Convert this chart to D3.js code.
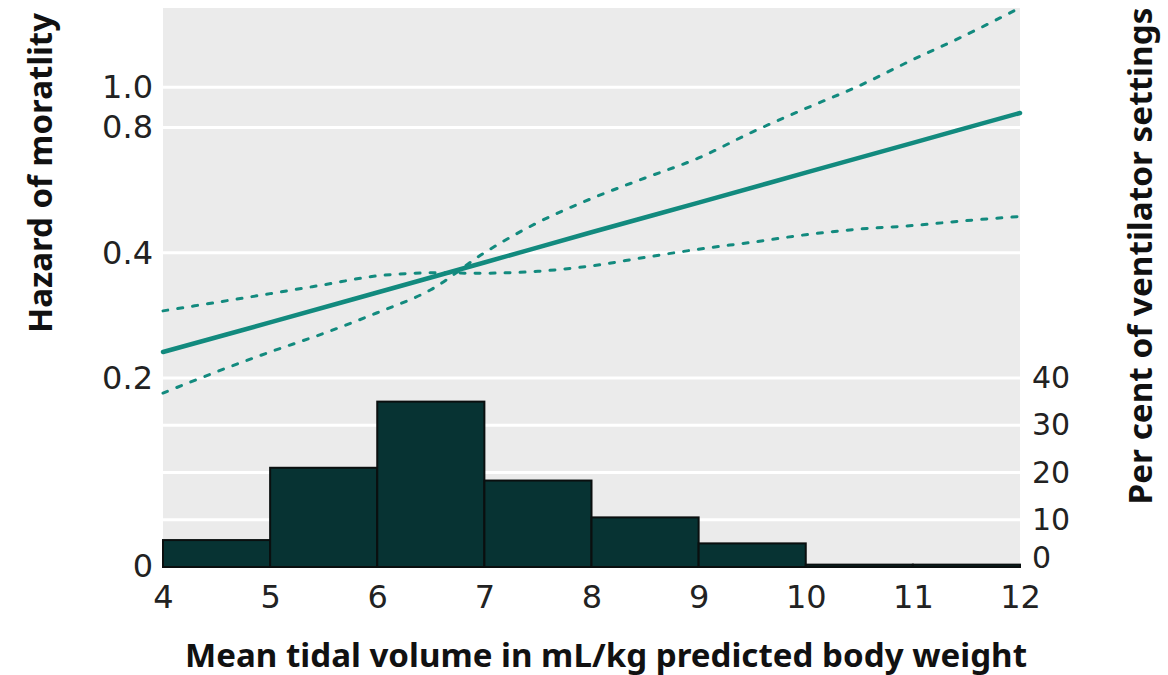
<!DOCTYPE html>
<html>
<head>
<meta charset="utf-8">
<script src="https://cdn.jsdelivr.net/npm/d3@7"></script>
<style>
  body { margin: 0; background: #fff; }
  text { font-family: "DejaVu Sans", sans-serif; fill: #222; }
  .title { font-family: "Noto Sans", sans-serif; font-weight: bold; fill: #111; }
</style>
</head>
<body>
<svg id="chart" width="1168" height="675"></svg>
<script>
// tidal volume (mL/kg PBW) where the hazard curve was read
const tidalVolume = [4, 5, 6, 7, 8, 9, 10, 11, 12];
const hazard = [0.231, 0.272, 0.321, 0.379, 0.448, 0.528, 0.623, 0.735, 0.867];

// confidence band, read every half unit
const ciVolume = [4, 4.5, 5, 5.5, 6, 6.5, 7, 7.5, 8, 8.5, 9, 9.5, 10, 10.5, 11, 11.5, 12];
const ciFlat = [0.290, 0.304, 0.319, 0.335, 0.352, 0.358, 0.357, 0.361, 0.372, 0.390, 0.408, 0.424, 0.442, 0.456, 0.465, 0.478, 0.489];
const ciSteep = [0.184, 0.207, 0.231, 0.256, 0.287, 0.326, 0.400, 0.473, 0.540, 0.605, 0.676, 0.780, 0.889, 1.008, 1.165, 1.337, 1.552];

// histogram of ventilator settings
const binStart = [4, 5, 6, 7, 8, 9, 10, 11];
const binPercent = [5.7, 21, 35, 18.3, 10.5, 5, 0.5, 0.5];

const xTicks = [4, 5, 6, 7, 8, 9, 10, 11, 12];
const hazardTicks = [0.2, 0.4, 0.8, 1.0];
const percentTicks = [0, 10, 20, 30, 40];

const svg = d3.select("#chart");
const margin = { top: 8, right: 148, bottom: 108, left: 163 };
const width = 1168, height = 675;
const plotL = margin.left, plotR = width - margin.right;
const plotT = margin.top, plotB = height - margin.bottom;

const x = d3.scaleLinear().domain([4, 12]).range([plotL, plotR]);
const yHaz = d3.scaleLog().domain([0.2, 1.55]).range([378, plotT]);
const yPct = d3.scaleLinear().domain([0, 40]).range([plotB, 378]);

svg.append("rect")
  .attr("x", plotL).attr("y", plotT)
  .attr("width", plotR - plotL).attr("height", plotB - plotT)
  .attr("fill", "#ebebeb");

// white grid lines
const grid = svg.append("g").attr("stroke", "#fff").attr("stroke-width", 3);
grid.selectAll(".gh")
  .data(hazardTicks)
  .join("line")
  .attr("x1", plotL).attr("x2", plotR)
  .attr("y1", d => yHaz(d)).attr("y2", d => yHaz(d));
grid.selectAll(".gp")
  .data(percentTicks.filter(d => d > 0 && d < 40))
  .join("line")
  .attr("x1", plotL).attr("x2", plotR)
  .attr("y1", d => yPct(d)).attr("y2", d => yPct(d));

// bars
svg.append("g")
  .selectAll("rect")
  .data(binStart.map((s, i) => ({ s, p: binPercent[i] })))
  .join("rect")
  .attr("x", d => x(d.s))
  .attr("width", d => x(d.s + 1) - x(d.s))
  .attr("y", d => yPct(d.p))
  .attr("height", d => yPct(0) - yPct(d.p))
  .attr("fill", "#073333")
  .attr("stroke", "#0a0f0f")
  .attr("stroke-width", 2);

const teal = "#128a7e";
const line = d3.line().curve(d3.curveCatmullRom.alpha(0.5));

svg.append("path")
  .attr("d", line(ciVolume.map((v, i) => [x(v), yHaz(ciFlat[i])])))
  .attr("fill", "none").attr("stroke", teal)
  .attr("stroke-width", 3).attr("stroke-dasharray", "5,10").attr("stroke-linecap", "round");
svg.append("path")
  .attr("d", line(ciVolume.map((v, i) => [x(v), yHaz(ciSteep[i])])))
  .attr("fill", "none").attr("stroke", teal)
  .attr("stroke-width", 3).attr("stroke-dasharray", "5,10").attr("stroke-linecap", "round");
svg.append("path")
  .attr("d", line(tidalVolume.map((v, i) => [x(v), yHaz(hazard[i])])))
  .attr("fill", "none").attr("stroke", teal)
  .attr("stroke-width", 4.5).attr("stroke-linecap", "round");

// axes, no lines, text only
const xAxis = svg.append("g")
  .attr("transform", `translate(0,${plotB})`)
  .call(d3.axisBottom(x).tickValues(xTicks).tickFormat(d3.format("d")).tickSize(0).tickPadding(18));
xAxis.select(".domain").remove();
xAxis.selectAll("text").attr("font-size", 32).attr("font-family", null).attr("fill", null);

const yLeft = svg.append("g")
  .attr("transform", `translate(${plotL - 10},0)`)
  .call(d3.axisLeft(yHaz).tickValues(hazardTicks).tickFormat(d3.format(".1f")).tickSize(0).tickPadding(0));
yLeft.select(".domain").remove();
yLeft.selectAll("text").attr("font-size", 32).attr("font-family", null).attr("fill", null);

svg.append("text")
  .attr("x", plotL - 10).attr("y", yPct(0))
  .attr("dy", "0.32em").attr("text-anchor", "end")
  .attr("font-size", 32).text("0");

const yRight = svg.append("g")
  .attr("transform", `translate(${plotR + 12},0)`)
  .call(d3.axisRight(yPct).tickValues(percentTicks).tickSize(0).tickPadding(0));
yRight.select(".domain").remove();
yRight.selectAll("text").attr("font-size", 30).attr("font-family", null).attr("fill", null)
  .filter(d => d === 0).attr("dy", "0em");

// titles
svg.append("text").attr("class", "title")
  .attr("x", 606).attr("y", 667)
  .attr("text-anchor", "middle").attr("font-size", 32)
  .attr("textLength", 842).attr("lengthAdjust", "spacingAndGlyphs")
  .text("Mean tidal volume in mL/kg predicted body weight");

svg.append("text").attr("class", "title")
  .attr("transform", "translate(52,173) rotate(-90)")
  .attr("text-anchor", "middle").attr("font-size", 32)
  .attr("textLength", 320).attr("lengthAdjust", "spacingAndGlyphs")
  .text("Hazard of moratlity");

svg.append("text").attr("class", "title")
  .attr("transform", "translate(1152,256) rotate(-90)")
  .attr("text-anchor", "middle").attr("font-size", 32)
  .attr("textLength", 497).attr("lengthAdjust", "spacingAndGlyphs")
  .text("Per cent of ventilator settings");
</script>
</body>
</html>
